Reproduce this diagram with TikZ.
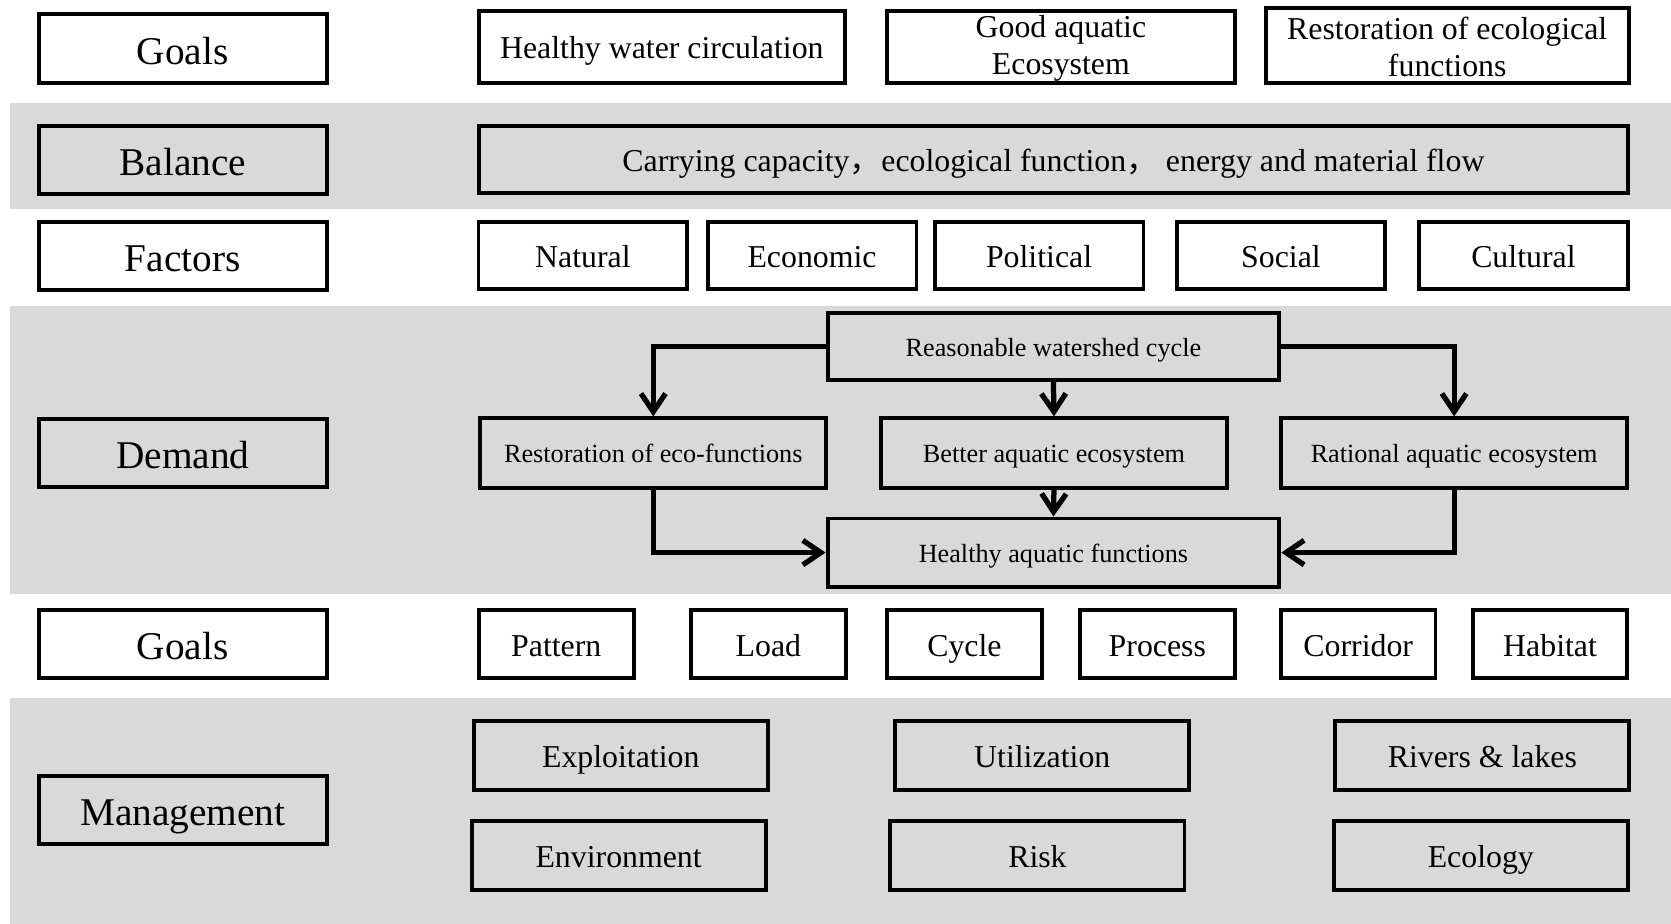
\documentclass[tikz,border=0pt]{standalone}
\usepackage{fontspec}
\setmainfont{Liberation Serif}
\newfontfamily\cjk{Noto Sans CJK SC}
\usetikzlibrary{arrows.meta,positioning}
\definecolor{bandgray}{RGB}{217,217,217}
\tikzset{
block/.style = {draw, rectangle, line width=2.1pt, inner sep=2pt, align=center, font=\fontsize{17}{19}\selectfont},
oneline/.style = {block, text height=13.6pt, text depth=0.7pt},
twoline/.style = {block, inner ysep=0pt, font=\fontsize{17}{20}\selectfont},
rowname/.style = {block, minimum width=5.4cm, minimum height=1.28cm, font=\fontsize{21}{25}\selectfont, text height=17.6pt, text depth=0.8pt},
factor/.style = {oneline, minimum width=3.92cm, minimum height=1.26cm},
demandbox/.style = {block, minimum width=6.5cm, minimum height=1.3cm, font=\fontsize{14}{16}\selectfont, text height=11.2pt, text depth=0.6pt},
goalbox/.style = {oneline, minimum width=2.9cm, minimum height=1.28cm},
manbox/.style = {oneline, minimum width=5.52cm, minimum height=1.3cm},
band/.style = {fill=bandgray}
}

\begin{document}
\begin{tikzpicture}[x=0.02cm, y=-0.02cm, line width=2.8pt, >={Straight Barb[length=0.34cm,width=0.46cm]}]
  \useasboundingbox (0,0) rectangle (1568,867);
  \fill [band] (9,97)  rectangle (1568,196);
  \fill [band] (9,287) rectangle (1568,557);
  \fill [band] (9,655) rectangle (1568,867);

  \node [rowname] (goalsA)     at (171.5,45.5) {Goals};
  \node [rowname] (balance)    at (171.5,150)  {Balance};
  \node [rowname] (factors)    at (171.5,240)  {Factors};
  \node [rowname] (demand)     at (171.5,425)  {Demand};
  \node [rowname] (goalsB)     at (171.5,604)  {Goals};
  \node [rowname] (management) at (171.5,760)  {Management};

  \node [oneline, minimum width=6.86cm, minimum height=1.34cm] (water) at (621,44) {Healthy water circulation};
  \node [twoline, minimum width=6.52cm, minimum height=1.34cm] (aquatic) at (995.5,44) {\rule{0pt}{13.5pt}Good aquatic\\Ecosystem};
  \node [twoline, minimum width=6.82cm, minimum height=1.4cm] (restore) at (1358,42.5) {\rule{0pt}{13.5pt}Restoration of ecological\\functions};

  \node [oneline, minimum width=21.56cm, minimum height=1.26cm] (capacity) at (988.5,150)
        {Carrying capacity{\cjk ，}ecological function{\cjk ，} energy and material flow};

  \node [factor] (natural)   at (547,240)    {Natural};
  \node [factor] (economic)  at (762,240)    {Economic};
  \node [factor] (political) at (975,240)    {Political};
  \node [factor] (social)    at (1202,240)   {Social};
  \node [factor] (cultural)  at (1429.5,240) {Cultural};

  \node [demandbox, minimum width=8.48cm, minimum height=1.26cm] (cycle) at (988.5,325) {Reasonable watershed cycle};
  \node [demandbox] (ecofunc)  at (613,425)    {Restoration of eco-functions};
  \node [demandbox] (better)   at (989,425)    {Better aquatic ecosystem};
  \node [demandbox] (rational) at (1364.5,425) {Rational aquatic ecosystem};
  \node [demandbox, minimum width=8.48cm, minimum height=1.28cm] (healthy) at (988.5,518.5) {Healthy aquatic functions};

  \draw [->] (cycle.west) -| (ecofunc.north);
  \draw [->] (cycle.east) -| (rational.north);
  \draw [->] (cycle.south) -- (better.north);
  \draw [->] (better.south) -- (healthy.north);
  \draw [->] (ecofunc.south) |- (healthy.west);
  \draw [->] (rational.south) |- (healthy.east);

  \node [goalbox] (pattern)  at (522,604.5)    {Pattern};
  \node [goalbox] (load)     at (721,604.5)    {Load};
  \node [goalbox] (cyc)      at (905,604.5)    {Cycle};
  \node [goalbox] (process)  at (1086,604.5)   {Process};
  \node [goalbox] (corridor) at (1274.5,604.5) {Corridor};
  \node [goalbox] (habitat)  at (1454.5,604.5) {Habitat};

  \node [manbox] (exploitation) at (582.5,709)  {Exploitation};
  \node [manbox] (environment)  at (580.5,803)  {Environment};
  \node [manbox] (utilization)  at (978,709)    {Utilization};
  \node [manbox] (risk)         at (973.5,803)  {Risk};
  \node [manbox] (rivers)       at (1391,709)   {Rivers \& lakes};
  \node [manbox] (ecology)      at (1389.5,803) {Ecology};
\end{tikzpicture}
\end{document}
